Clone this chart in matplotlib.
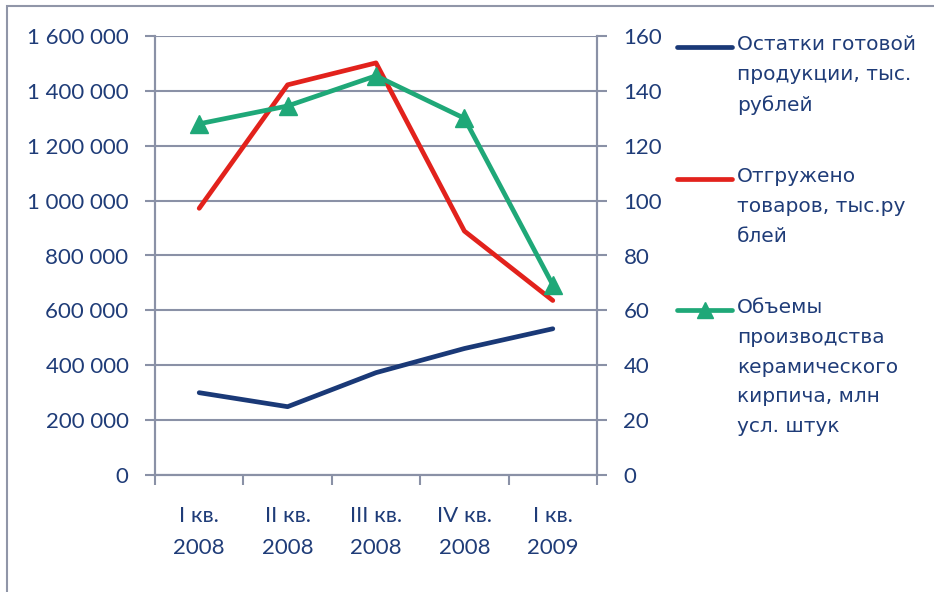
import matplotlib.pyplot as plt
from matplotlib.lines import Line2D
from matplotlib.patches import Rectangle
from matplotlib.ticker import FuncFormatter, FixedLocator

# Данные
quarters = ["I кв.\n2008", "II кв.\n2008", "III кв.\n2008", "IV кв.\n2008", "I кв.\n2009"]
stock = [300000, 249000, 373000, 461000, 533000]           # Остатки готовой продукции
shipped = [972000, 1422000, 1502000, 889000, 636000]       # Отгружено товаров
production = [128, 134.5, 145.5, 130, 69.3]                # Объемы производства, млн усл. штук

labels = [
    "Остатки готовой\nпродукции, тыс.\nрублей",
    "Отгружено\nтоваров, тыс.ру\nблей",
    "Объемы\nпроизводства\nкерамического\nкирпича, млн\nусл. штук",
]

W, H = 934, 592
TXT = "#1f3c78"
GRID = "#8a91a6"
BLUE = "#1a3977"
RED = "#e2221c"
GREEN = "#1fa878"

fig = plt.figure(figsize=(W / 100, H / 100), dpi=100)
fig.patches.append(Rectangle((7 / W, -0.1), 2, 1.1 - 6 / H, transform=fig.transFigure,
                             fill=False, edgecolor="#9096a8", linewidth=1.5))

ax = fig.add_axes([155 / W, (H - 475) / H, (597 - 155) / W, (475 - 36) / H])
ax2 = ax.twinx()

x = list(range(len(quarters)))
ax.plot(x, stock, color=BLUE, linewidth=3.4, solid_capstyle="round", zorder=3)
ax.plot(x, shipped, color=RED, linewidth=3.4, solid_capstyle="round", zorder=3)
ax2.plot(x, production, color=GREEN, linewidth=3.4, marker="^", markersize=13,
         solid_capstyle="round", zorder=3)

ax.set_xlim(-0.5, len(quarters) - 0.5)
ax.set_ylim(0, 1600000)
ax2.set_ylim(0, 160)
ax.set_yticks(range(0, 1600001, 200000))
ax2.set_yticks(range(0, 161, 20))
ax.yaxis.set_major_formatter(FuncFormatter(lambda v, p: f"{int(v):,}".replace(",", " ")))

ax.set_xticks(x)
ax.set_xticklabels(quarters, linespacing=1.75)
ax.xaxis.set_minor_locator(FixedLocator([i - 0.5 for i in range(len(quarters) + 1)]))
ax.tick_params(axis="x", which="major", length=0, pad=22)
ax.tick_params(axis="x", which="minor", length=7, width=1.5, color=GRID)

for a in (ax, ax2):
    for s in a.spines.values():
        s.set_color(GRID)
        s.set_linewidth(1.5)
    a.spines["top"].set_visible(False)
    a.tick_params(axis="y", length=7, width=1.5, color=GRID, labelcolor=TXT, labelsize=16)
    a.tick_params(axis="x", labelcolor=TXT, labelsize=16)
    for lab in a.get_yticklabels() + a.get_xticklabels():
        lab.set_fontfamily("Lato")
ax.tick_params(axis="y", pad=12)
ax2.tick_params(axis="y", pad=12)

ax.grid(axis="y", color=GRID, linewidth=1.5)
ax.set_axisbelow(True)

# Легенда справа
colors = [BLUE, RED, GREEN]
markers = [None, None, "^"]
legend_y = [47, 179, 310]
for c, m, lab, yy in zip(colors, markers, labels, legend_y):
    fy = 1 - yy / H
    fig.add_artist(Line2D([677 / W, 732 / W], [fy, fy], transform=fig.transFigure,
                          color=c, linewidth=3.4, solid_capstyle="round"))
    if m:
        fig.add_artist(Line2D([704.5 / W], [fy], transform=fig.transFigure,
                              color=c, marker=m, markersize=12, linestyle="none"))
    fig.text(737 / W, fy + 12 / H, lab, ha="left", va="top", color=TXT, fontsize=14.5,
             family="DejaVu Sans", linespacing=1.72)

fig.savefig("out.png", dpi=100)
